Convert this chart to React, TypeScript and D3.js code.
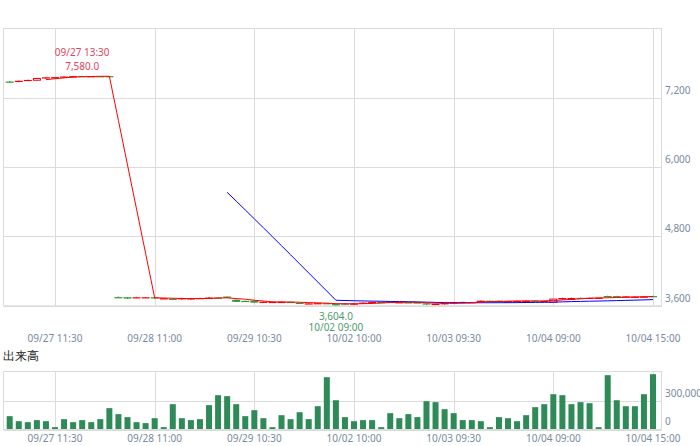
import React from "react";
import * as d3 from "d3";

const days = ["09/27", "09/28", "09/29", "10/02", "10/03", "10/04"];
const sessions = ["09:00", "09:30", "10:00", "10:30", "11:00", "11:30", "12:30", "13:00", "13:30", "14:00", "14:30", "15:00"];
const categories: string[] = days.flatMap((d) => sessions.map((s) => `${d} ${s}`));

const opens = [
  7482, 7476, 7495, 7505, 7535, 7555, 7550, 7565, 7578, 7572, 7575, 7576,
  3750, 3748, 3742, 3742, 3748, 3728, 3722, 3712, 3712, 3732, 3740, 3742,
  3760, 3705, 3685, 3688, 3655, 3668, 3666, 3668, 3652, 3640, 3640, 3646,
  3630, 3640, 3622, 3650, 3645, 3665, 3668, 3662, 3660, 3658, 3642, 3620,
  3625, 3640, 3668, 3662, 3665, 3688, 3688, 3680, 3682, 3665, 3690, 3676,
  3662, 3712, 3705, 3738, 3732, 3738, 3770, 3768, 3750, 3745, 3755, 3768,
];
const highs = [
  7490, 7500, 7515, 7540, 7560, 7560, 7572, 7578, 7580, 7578, 7578, 7578,
  3760, 3752, 3755, 3752, 3752, 3732, 3726, 3738, 3736, 3740, 3752, 3748,
  3762, 3712, 3690, 3695, 3675, 3672, 3672, 3672, 3656, 3648, 3652, 3650,
  3640, 3648, 3645, 3660, 3670, 3668, 3670, 3668, 3665, 3662, 3646, 3640,
  3655, 3668, 3672, 3668, 3692, 3690, 3692, 3686, 3688, 3692, 3694, 3690,
  3720, 3740, 3740, 3742, 3740, 3742, 3775, 3772, 3768, 3762, 3764, 3775,
];
const lows = [
  7470, 7470, 7490, 7500, 7530, 7550, 7545, 7560, 7565, 7568, 7570, 7568,
  3740, 3720, 3738, 3738, 3722, 3725, 3698, 3708, 3708, 3728, 3735, 3738,
  3738, 3665, 3675, 3650, 3650, 3664, 3660, 3660, 3630, 3636, 3636, 3638,
  3604, 3618, 3618, 3645, 3640, 3660, 3655, 3658, 3655, 3652, 3618, 3615,
  3620, 3635, 3655, 3658, 3660, 3680, 3676, 3676, 3678, 3660, 3678, 3672,
  3658, 3705, 3700, 3728, 3728, 3734, 3745, 3750, 3745, 3740, 3748, 3758,
];
const closes = [
  7476, 7495, 7510, 7535, 7555, 7558, 7568, 7575, 7570, 7575, 7574, 7572,
  3748, 3725, 3748, 3748, 3726, 3730, 3702, 3732, 3730, 3735, 3742, 3740,
  3740, 3668, 3680, 3655, 3670, 3668, 3668, 3664, 3636, 3642, 3646, 3642,
  3622, 3622, 3640, 3655, 3665, 3662, 3660, 3662, 3658, 3655, 3622, 3635,
  3650, 3662, 3660, 3665, 3688, 3684, 3680, 3682, 3684, 3688, 3682, 3685,
  3716, 3735, 3735, 3732, 3738, 3740, 3750, 3755, 3762, 3758, 3760, 3762,
];
const hollow = [
  false, false, false, true, false, false, false, false, false, false, false, false,
  false, false, false, false, false, false, false, false, false, false, false, false,
  false, false, false, false, false, false, false, false, false, false, false, false,
  false, false, false, false, false, false, false, false, false, false, false, false,
  false, false, false, false, false, false, false, false, false, false, false, false,
  true, false, false, false, false, false, false, false, false, false, false, false,
];
const volumes = [
  138000, 86000, 76000, 97000, 86000, 24000, 107000, 76000, 97000, 76000, 107000, 221000,
  159000, 128000, 76000, 66000, 117000, 24000, 262000, 117000, 97000, 107000, 252000, 355000,
  345000, 262000, 138000, 200000, 117000, 24000, 148000, 107000, 179000, 107000, 241000, 541000,
  303000, 128000, 86000, 97000, 97000, 24000, 169000, 117000, 159000, 128000, 293000, 283000,
  210000, 169000, 97000, 97000, 86000, 24000, 128000, 117000, 86000, 148000, 231000, 262000,
  365000, 355000, 262000, 283000, 272000, 24000, 562000, 303000, 241000, 241000, 365000, 572000,
];
const priceTicks = [3600, 4800, 6000, 7200];
const volumeTicks = [0, 300000];
const xTickIndices = [5, 16, 27, 38, 49, 60, 71];
const maShort = 5;
const maLong = 25;
const volumeTitle = "出来高";

function movingAverage(values: number[], n: number): (number | null)[] {
  return values.map((_, i) => (i < n - 1 ? null : d3.mean(values.slice(i - n + 1, i + 1)) as number));
}

const FONT = "'Noto Sans', 'DejaVu Sans', sans-serif";
const GRID = "#dcdcdc";
const TICK = "#7a8aa3";
const UP = "#f00000";
const DOWN = "#2f9a3a";

export default function App() {
  const left = 3.5, right = 661.5;
  const mainTop = 28.5, mainBottom = 305.8;
  const volTop = 371.5, volBottom = 429.5;

  const x = d3.scalePoint<string>().domain(categories).range([9.7, 653]);
  const y = d3.scaleLinear().domain([3600, 8400]).range([mainBottom, mainTop]);
  const yv = d3.scaleLinear().domain([0, 600000]).range([volBottom, volTop]);

  const ma5 = movingAverage(closes, maShort);
  const ma25 = movingAverage(closes, maLong);
  const line = d3
    .line<number | null>()
    .defined((d) => d != null)
    .x((_, i) => x(categories[i]) as number)
    .y((d) => y(d as number));

  const maxIdx = d3.maxIndex(highs);
  const minIdx = d3.minIndex(lows);
  const fmt = d3.format(",.1f");
  const fmtAxis = d3.format(",");

  const candleW = 8;
  const volW = 6;

  return (
    <svg
      width={700}
      height={446}
      style={{ position: "absolute", left: 0, top: 0, background: "#fff" }}
      fontFamily={FONT}
    >
      {/* main panel grid */}
      {priceTicks.map((t) => (
        <line key={"pg" + t} x1={left} x2={right} y1={Math.round(y(t)) + 0.5} y2={Math.round(y(t)) + 0.5} stroke={GRID} />
      ))}
      {xTickIndices.map((i) => {
        const xx = Math.round(x(categories[i]) as number) + 0.5;
        return <line key={"vg" + i} x1={xx} x2={xx} y1={mainTop} y2={mainBottom} stroke={GRID} />;
      })}
      <rect x={left} y={mainTop} width={right - left} height={mainBottom - mainTop} fill="none" stroke={GRID} />

      {/* candles */}
      {categories.map((c, i) => {
        const cx = x(c) as number;
        const up = closes[i] >= opens[i];
        const col = up ? UP : DOWN;
        const yTop = y(Math.max(opens[i], closes[i]));
        const yBot = y(Math.min(opens[i], closes[i]));
        const h = Math.max(1.2, yBot - yTop);
        return (
          <g key={"c" + i}>
            <line x1={cx} x2={cx} y1={y(highs[i])} y2={y(lows[i])} stroke={col} strokeWidth={1} />
            {hollow[i] ? (
              <rect x={cx - candleW / 2 + 0.5} y={yTop} width={candleW - 1} height={h} fill="#fff" stroke={col} strokeWidth={1} />
            ) : (
              <rect x={cx - candleW / 2} y={yTop} width={candleW} height={h} fill={col} />
            )}
          </g>
        );
      })}

      {/* moving averages */}
      <path d={line(ma25) || ""} fill="none" stroke="#0000ff" strokeWidth={1} />
      <path d={line(ma5) || ""} fill="none" stroke="#ff0000" strokeWidth={1} />

      {/* max / min annotations */}
      <text x={x(categories[maxIdx])} y={56} textAnchor="middle" fontSize={10} fill="#e0465e">
        {categories[maxIdx]}
      </text>
      <text x={x(categories[maxIdx])} y={69.5} textAnchor="middle" fontSize={10} fill="#e0465e">
        {fmt(highs[maxIdx])}
      </text>
      <text x={x(categories[minIdx])} y={319.5} textAnchor="middle" fontSize={10} fill="#4f9a70">
        {fmt(lows[minIdx])}
      </text>
      <text x={x(categories[minIdx])} y={331} textAnchor="middle" fontSize={10} fill="#4f9a70">
        {categories[minIdx]}
      </text>

      {/* price axis labels */}
      {priceTicks.map((t) => (
        <text key={"pl" + t} x={665} y={y(t) - 4} fontSize={10} fill={TICK}>
          {fmtAxis(t)}
        </text>
      ))}
      {/* main x labels */}
      {xTickIndices.map((i) => (
        <text key={"xl" + i} x={x(categories[i])} y={342} textAnchor="middle" fontSize={10} fill={TICK}>
          {categories[i]}
        </text>
      ))}

      {/* volume title */}
      <text x={3} y={360} fontSize={12} fill="#222">
        {volumeTitle}
      </text>

      {/* volume panel */}
      {volumeTicks.map((t) => (
        <line key={"vgl" + t} x1={left} x2={right} y1={Math.round(yv(t)) + 0.5} y2={Math.round(yv(t)) + 0.5} stroke={GRID} />
      ))}
      {xTickIndices.map((i) => {
        const xx = Math.round(x(categories[i]) as number) + 0.5;
        return <line key={"vvg" + i} x1={xx} x2={xx} y1={volTop} y2={volBottom} stroke={GRID} />;
      })}
      <rect x={left} y={volTop} width={right - left} height={volBottom - volTop} fill="none" stroke={GRID} />
      {categories.map((c, i) => (
        <rect
          key={"v" + i}
          x={(x(c) as number) - volW / 2}
          y={yv(volumes[i])}
          width={volW}
          height={volBottom - 0.5 - yv(volumes[i])}
          fill="#2e8b57"
        />
      ))}
      {volumeTicks.map((t) => (
        <text key={"vl" + t} x={665} y={yv(t) - (t === 0 ? 5 : 4)} fontSize={10} fill={TICK}>
          {fmtAxis(t)}
        </text>
      ))}
      {xTickIndices.map((i) => (
        <text key={"vxl" + i} x={x(categories[i])} y={442} textAnchor="middle" fontSize={10} fill={TICK}>
          {categories[i]}
        </text>
      ))}
    </svg>
  );
}
